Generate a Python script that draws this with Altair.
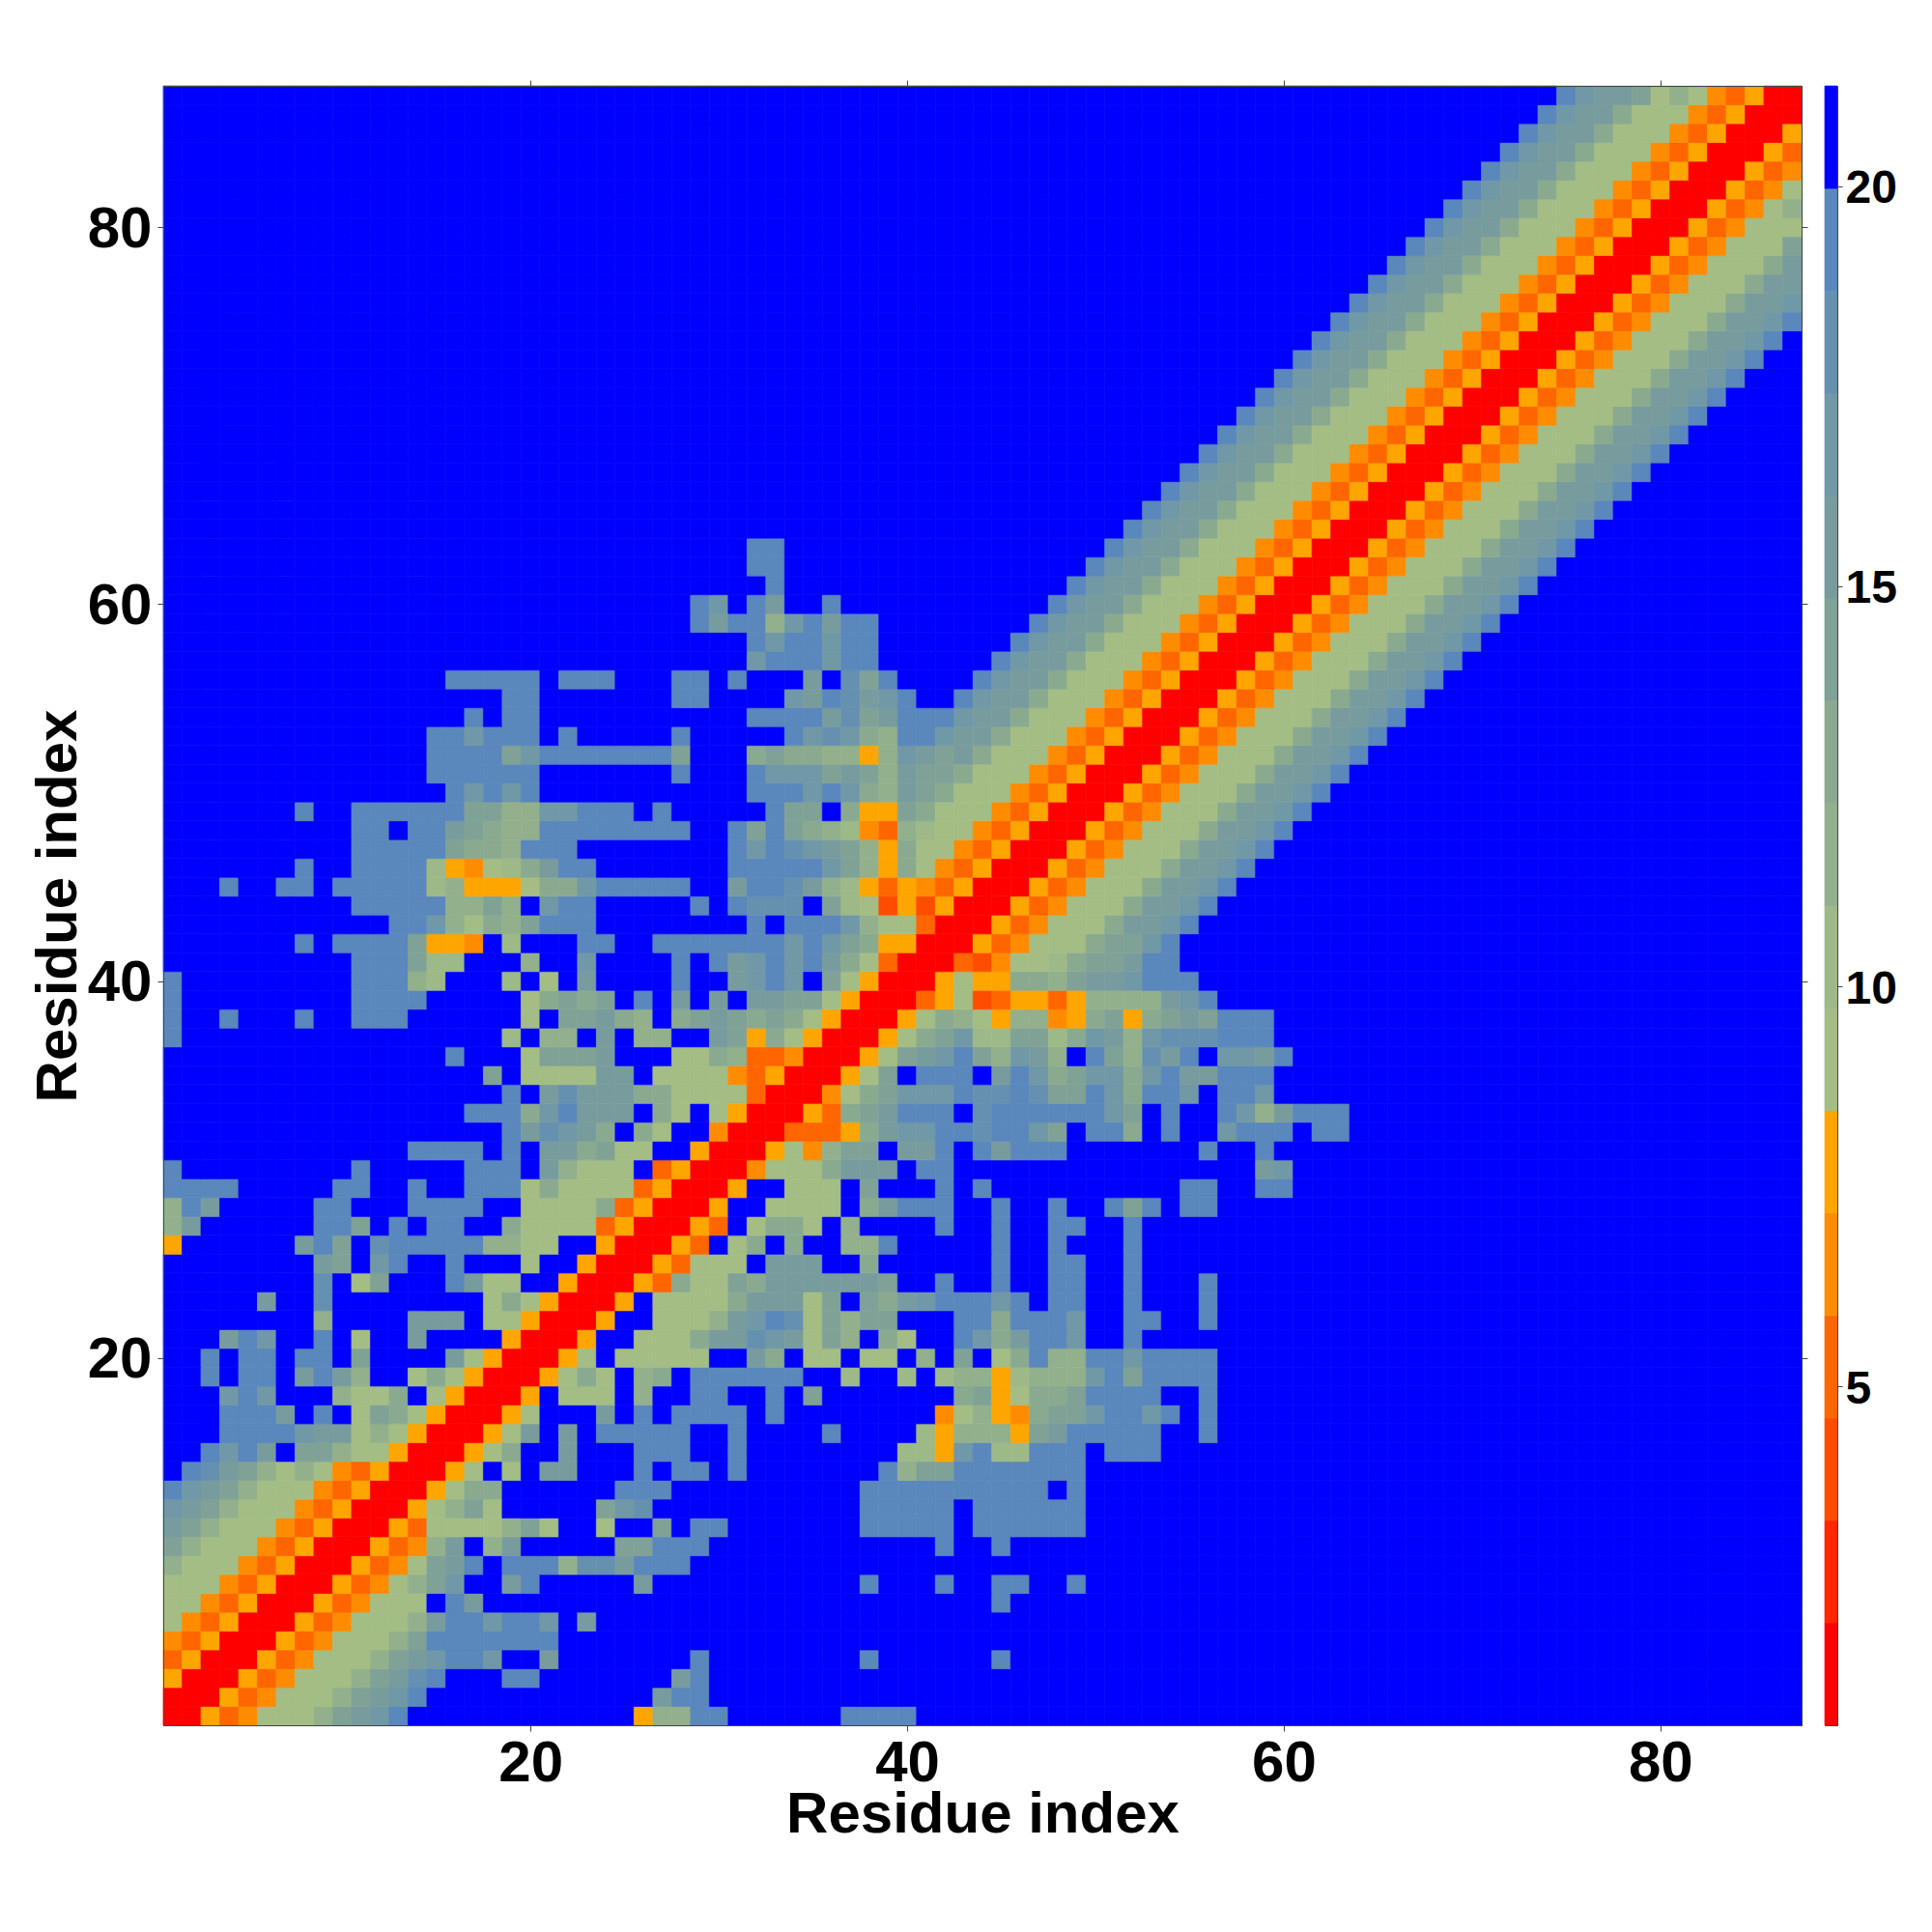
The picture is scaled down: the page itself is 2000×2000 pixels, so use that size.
import altair as alt
import pandas as pd

N = 87
# colour level per band: 0-5 reds/oranges, 6-14 sage to steel blue, f = blue (beyond cut-off)
COLORS = ["#ff0000", "#ff2600", "#ff4d00", "#ff6600", "#ff8c00", "#ffa500",
          "#a3bd85", "#9eb988", "#93b08c", "#8aaa90", "#80a296", "#789c9e",
          "#7098a6", "#6590b0", "#5a87bc", "#0000ff"]
BAR_EDGES = [0.77, 2.05, 3.33, 4.61, 5.89, 7.17, 8.45, 9.73, 11.01, 12.29,
             13.57, 14.85, 16.13, 17.41, 18.69, 19.97, 21.25]
TICKS = [20, 40, 60, 80]
BAR_TICKS = [5, 10, 15, 20]

# lower triangle: row r lists residues k = r, r+1, ... (hex level); omitted tail = blue
ROWS = [
 "0053466 68abce ffffffffffff 588 ee ffffff eeee",
 "0053466 68abce ffffffffffff b ee",
 "0053466 68abde fff ee fffffff b e",
 "0053466 68abc ee c ff b fffffff e ffffffff e ffffff e",
 "0053466 68a eeeeeee",
 "0053466 68b ee c ee c f b",
 "0053466 6 f e b fffffffffffffffffffffffffff e",
 "005346 8 a c ff b e fffff b fffffffffff e fff e ff ee ff e",
 "005346 a b e f eee 8 dd b eee",
 "00534 8 b f 8 b fffff aa eee ffffffffffff e ff e",
 "0053 6666 8 a 6 ff 6 ff a f ee fffffff eeeee f eeeeee",
 "005 6 8 a 6 fffff a c d fffffffffff eeeee f eeeeee",
 "005 6 99 ffffff eee ffffffffff eeeeeeeeee f e",
 "005 6 f 6 f bb fff e f ee f e fffffff e 8 aa eeeeeee",
 "005 6 9 ff b fff eee ff e ffffffff 77 5 c e 77 eee f eee",
 "005 6 b f b f eeeee ff e ffff e ffff 7 5 888 5 a b eeeee ff e",
 "005 6 fff b f e f eeee f e ffffffff 4 6 8 5 4 9 aa c ee c e f e",
 "005 f 666 f 8 ff ee ff e f a fffffff 9 a 5 6 99 a eeee ff e",
 "005 6 9 6 f 8 9 f eeeeee ff 7 ff 7 f 7 88 5 7 888 c e a eeee",
 "005 6 f 66666 ff b 9 f 66 f 66 f 8 f a f 6 9 e 88 ee c eeee",
 "005 ff 666 9 bb d c b 6 a 8 f 9 6 ff e c 9 b ee c ff e",
 "005 ff 666 8 b c e d 6 a 8 aa fff ee 9 eee c ff ee ff e",
 "005 f 6666 9 bbb 6 a f a 9 b c eee c e f ee ff e fff e",
 "00 5 3 9 66 a 9 bbb bbb a ff e ff e ff ee ff e fff e",
 "00 5 3 666 f bbb ff 9 ffffff e ff ee ff e",
 "00 5 3 f 6 9 f 9 ff 88 e fffff e ff e fff e",
 "00 5 3 f 6 99 6 f 8 ffff e ff e ff ee ff e",
 "00 5 ff 6666 f 9 b eee ff e ff e ff e a e f ee",
 "00 5 ff 666 f a fff e f e ffffffffff ee ff ee",
 "00 4 666 9 bbb f ee ffffffffffffffff b c",
 "00 5 6 4 8 aa f bb e f e b eee fffffff e ff e",
 "00 333 5 9 b cc ee d ee c a f ee 9 f e ff c eee f ee",
 "00 5 3 9 a b eee f d eeeeee c a f e ff e c 8 b eee",
 "00 4 6 9 a ccc e dd e d aa e c 9 ee c f ee c",
 "00 5 6 a f eee f b e c 9 a cc 9 c e bb eee",
 "00 5 6 a b c e a 8 c b 8 f e a 8 d b e f cc b e",
 "00 5 6 9 a c 77 aa 7 9 c b 8 c ddd eee",
 "00 5 6 9 8 6 5 88 4 5 9 a 5 9 a b a eee",
 "00 3 5 6 2 3 55 3 5 8888 b c e",
 "00 5 6 55 99 8 a bb c eee",
 "00 3 2 4 66 7 9 aa b ee",
 "005346669aace", "005346669bbce", "005346669bbce", "005346669bbce",
 "005346669bbce", "005346669bbce", "005346669bbce", "005346669bbce",
 "005346669bbce", "005346669bbce", "005346669bbce", "005346669bbce",
 "005346669bbce", "005346669bbce", "005346669bbce", "005346669bbce",
 "005346669bbce", "005346669bbce", "005346669bbce", "005346669bbce",
 "005346669bbce", "005346669bbce", "005346669bbce", "005346669bbce",
 "005346669bbce", "005346669bbce", "005346669bbce", "005346669bbce",
 "005346669bbce", "005346669bbce", "005346669bbce", "005346669bbce",
 "005346669bbce", "005346669bbce",
 "005346669bbc", "005346669bb", "005346669b", "00534666a", "00534666",
 "0053468", "005346", "00534", "0053", "005", "00", "0",
]
assert len(ROWS) == N, len(ROWS)

M = [[15] * N for _ in range(N)]
for r, s in enumerate(ROWS):
    s = s.replace(" ", "")
    assert r + len(s) <= N, (r + 1, len(s))
    for j, ch in enumerate(s):
        M[r][r + j] = M[r + j][r] = int(ch, 16)

cells = pd.DataFrame([
    {"x0": k + 0.5, "x1": k + 1.5, "y0": r + 0.5, "y1": r + 1.5, "level": M[r][k]}
    for r in range(N) for k in range(N)
])
bands = pd.DataFrame({"lo": BAR_EDGES[:-1], "hi": BAR_EDGES[1:], "level": list(range(16))})

FONT = "Liberation Sans"
DARK = "#444444"
xs = alt.Scale(domain=[0.5, 87.5], nice=False, zero=False)
ys = alt.Scale(domain=[0.5, 87.5], nice=False, zero=False)
cs = alt.Scale(domain=list(range(16)), range=COLORS)


def ax(orient, title=None, labels=True, pad=8, tpad=8, offset=0):
    kw = dict(orient=orient, values=TICKS, grid=False, tickSize=6, tickColor=DARK,
              domainColor=DARK, domainWidth=1, zindex=1, labels=labels)
    if title:
        kw.update(title=title, titleFont=FONT, titleFontSize=60, titleFontWeight="bold",
                  titlePadding=tpad, titleColor="black")
    else:
        kw.update(title=None)
    if labels:
        kw.update(labelFont=FONT, labelFontSize=60, labelFontWeight="bold", labelOffset=offset,
                  labelColor="black", labelPadding=pad, labelFlush=False, format="d")
    return alt.Axis(**kw)


heat = alt.Chart(cells).mark_rect(strokeWidth=0.7).encode(
    x=alt.X("x0:Q", scale=xs, axis=ax("bottom", "Residue index", pad=4, tpad=-6)),
    x2="x1:Q",
    y=alt.Y("y0:Q", scale=ys, axis=ax("left", "Residue index", pad=6, tpad=-1, offset=2)),
    y2="y1:Q",
    color=alt.Color("level:N", scale=cs, legend=None),
    stroke=alt.Stroke("level:N", scale=cs, legend=None),
)
frame = alt.Chart(cells.head(1)).mark_rect(opacity=0).encode(
    x=alt.X("x0:Q", scale=xs, axis=ax("top", labels=False)),
    x2="x1:Q",
    y=alt.Y("y0:Q", scale=ys, axis=ax("right", labels=False)),
    y2="y1:Q",
)
main = alt.layer(heat, frame).resolve_axis(x="independent", y="independent").properties(
    width=1696, height=1697
)

bar = alt.Chart(bands).mark_rect(strokeWidth=0.7).encode(
    x=alt.value(0),
    x2=alt.value(13),
    y=alt.Y("lo:Q", scale=alt.Scale(domain=[0.77, 21.25], nice=False, zero=False),
            axis=alt.Axis(orient="right", values=BAR_TICKS, grid=False, title=None, tickSize=5,
                          tickColor=DARK, domainColor=DARK, domainWidth=1, zindex=1,
                          labelFont=FONT, labelFontSize=48, labelFontWeight="bold", labelOffset=3,
                          labelColor="black", labelPadding=3, labelFlush=False, format="d")),
    y2="hi:Q",
    color=alt.Color("level:N", scale=cs, legend=None),
    stroke=alt.Stroke("level:N", scale=cs, legend=None),
).properties(width=13, height=1697)

chart = alt.hconcat(main, bar, spacing=16).properties(
    padding={"left": 21, "top": 74, "right": 5, "bottom": 5}, background="white"
).configure_view(stroke=DARK)

chart.save("out.html", embed_options={"renderer": "svg", "actions": False})
